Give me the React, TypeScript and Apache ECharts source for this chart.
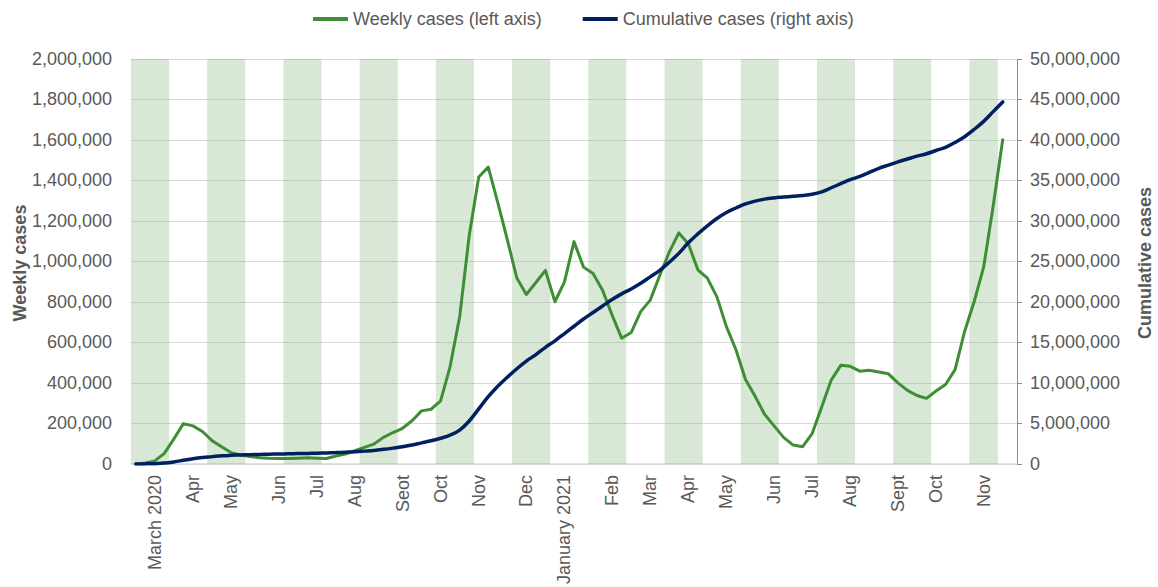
import React, { useEffect, useRef } from "react";
import * as echarts from "echarts";

// Weekly cases, one value per week (March 2020 – Nov 2021)
const weeklyCases = [
  0, 5000, 15000, 52000, 124000, 199000, 188000, 160000, 115000, 85000,
  56000, 44000, 36000, 31000, 28000, 27000, 27000, 28000, 30000, 28000,
  27000, 39000, 49000, 65000, 82000, 98000, 131000, 155000, 176000, 213000,
  262000, 270000, 311000, 482000, 727000, 1128000, 1417000, 1466000, 1291000, 1108000,
  918000, 837000, 896000, 956000, 801000, 899000, 1098000, 972000, 940000, 858000,
  735000, 621000, 649000, 752000, 809000, 931000, 1046000, 1141000, 1087000, 959000,
  918000, 825000, 678000, 564000, 417000, 335000, 245000, 188000, 131000, 93000,
  85000, 150000, 281000, 414000, 487000, 482000, 458000, 463000, 454000, 445000,
  400000, 363000, 338000, 324000, 360000, 392000, 466000, 654000, 801000, 972000,
  1274000, 1601000,
];

// Cumulative cases, one value per week
const cumulativeCases = [
  0, 5000, 30000, 100000, 250000, 450000, 650000, 800000, 900000, 1000000,
  1060000, 1100000, 1140000, 1170000, 1200000, 1220000, 1250000, 1280000, 1300000, 1330000,
  1360000, 1400000, 1450000, 1500000, 1580000, 1670000, 1800000, 1950000, 2120000, 2330000,
  2600000, 2860000, 3170000, 3550000, 4170000, 5300000, 6800000, 8300000, 9600000, 10700000,
  11750000, 12700000, 13500000, 14400000, 15200000, 16100000, 17000000, 17900000, 18700000, 19500000,
  20300000, 21000000, 21600000, 22300000, 23100000, 23900000, 24900000, 26000000, 27300000, 28400000,
  29400000, 30300000, 31050000, 31600000, 32100000, 32450000, 32700000, 32850000, 32950000, 33050000,
  33150000, 33300000, 33600000, 34100000, 34600000, 35100000, 35500000, 36000000, 36500000, 36900000,
  37300000, 37650000, 38000000, 38300000, 38700000, 39100000, 39700000, 40400000, 41300000, 42300000,
  43500000, 44700000,
];

// Month tick labels and the week index where each appears
const monthLabels = [
  "March 2020", "Apr", "May", "Jun", "Jul", "Aug", "Seot", "Oct", "Nov", "Dec",
  "January 2021", "Feb", "Mar", "Apr", "May", "Jun", "Jul", "Aug", "Sept", "Oct", "Nov",
];
const monthLabelWeeks = [2, 6, 10, 15, 19, 23, 28, 32, 36, 41, 45, 50, 54, 58, 62, 67, 71, 75, 80, 84, 89];

// Alternating background shading per week (1 = shaded)
const shadeBands = [
  1, 1, 1, 1, 0, 0, 0, 0, 1, 1, 1, 1, 0, 0, 0, 0, 1, 1, 1, 1,
  0, 0, 0, 0, 1, 1, 1, 1, 0, 0, 0, 0, 1, 1, 1, 1, 0, 0, 0, 0,
  1, 1, 1, 1, 0, 0, 0, 0, 1, 1, 1, 1, 0, 0, 0, 0, 1, 1, 1, 1,
  0, 0, 0, 0, 1, 1, 1, 1, 0, 0, 0, 0, 1, 1, 1, 1, 0, 0, 0, 0,
  1, 1, 1, 1, 0, 0, 0, 0, 1, 1, 1, 0, 0,
];

const FONT = '"Liberation Sans", Arial, Helvetica, sans-serif';
const GREY = "#595959";

export default function App() {
  const ref = useRef<HTMLDivElement>(null);

  useEffect(() => {
    if (!ref.current) return;
    const chart = echarts.init(ref.current, null, { renderer: "svg" });

    const categories: string[] = shadeBands.map(() => "");
    monthLabelWeeks.forEach((w, k) => {
      categories[w] = monthLabels[k];
    });

    const fmt = (v: number) => v.toLocaleString("en-US");

    chart.setOption({
      animation: false,
      textStyle: { fontFamily: FONT },
      legend: {
        data: ["Weekly cases (left axis)", "Cumulative cases (right axis)"],
        left: 308,
        top: 5,
        icon: "rect",
        itemWidth: 35,
        itemHeight: 4,
        itemGap: 41,
        textStyle: { fontSize: 18, color: GREY, fontFamily: FONT },
      },
      grid: { left: 131, top: 59, width: 886, height: 408 },
      xAxis: {
        type: "category",
        data: categories,
        boundaryGap: true,
        axisLine: { lineStyle: { color: "#D9D9D9", width: 1.5 } },
        axisTick: { show: false },
        axisLabel: {
          interval: 0,
          rotate: 90,
          margin: 11,
          fontSize: 18,
          color: GREY,
          fontFamily: FONT,
        },
        splitLine: { show: false },
      },
      yAxis: [
        {
          type: "value",
          min: 0,
          max: 2000000,
          interval: 200000,
          axisLine: { show: false },
          axisTick: { show: false },
          axisLabel: { margin: 19, fontSize: 18, color: GREY, fontFamily: FONT, formatter: fmt },
          splitLine: { lineStyle: { color: "#D9D9D9", width: 1 } },
        },
        {
          type: "value",
          position: "right",
          min: 0,
          max: 50000000,
          interval: 5000000,
          axisLine: { show: true, lineStyle: { color: "#8C8C8C", width: 1 } },
          axisTick: { show: true, length: 5, lineStyle: { color: "#8C8C8C" } },
          axisLabel: { margin: 13, fontSize: 18, color: GREY, fontFamily: FONT, formatter: fmt },
          splitLine: { show: false },
        },
        { type: "value", min: 0, max: 1, show: false },
      ],
      graphic: [
        {
          type: "text",
          x: 20,
          y: 263,
          rotation: Math.PI / 2,
          style: {
            text: "Weekly cases",
            fontSize: 18,
            fontWeight: "bold",
            fill: GREY,
            fontFamily: FONT,
            align: "center",
            verticalAlign: "middle",
          },
        },
        {
          type: "text",
          x: 1145,
          y: 263,
          rotation: Math.PI / 2,
          style: {
            text: "Cumulative cases",
            fontSize: 18,
            fontWeight: "bold",
            fill: GREY,
            fontFamily: FONT,
            align: "center",
            verticalAlign: "middle",
          },
        },
      ],
      series: [
        {
          name: "bands",
          type: "bar",
          yAxisIndex: 2,
          data: shadeBands,
          barCategoryGap: "0%",
          barGap: "0%",
          silent: true,
          z: 1,
          itemStyle: { color: "rgba(128,178,118,0.3)" },
        },
        {
          name: "Weekly cases (left axis)",
          type: "line",
          yAxisIndex: 0,
          data: weeklyCases,
          symbol: "none",
          z: 3,
          itemStyle: { color: "#3E8E35" },
          lineStyle: { color: "#3E8E35", width: 3, join: "round", cap: "round" },
        },
        {
          name: "Cumulative cases (right axis)",
          type: "line",
          yAxisIndex: 1,
          data: cumulativeCases,
          symbol: "none",
          smooth: 0.4,
          z: 4,
          itemStyle: { color: "#002060" },
          lineStyle: { color: "#002060", width: 3.5, cap: "round" },
        },
      ],
    });

    return () => chart.dispose();
  }, []);

  return (
    <div
      ref={ref}
      style={{ position: "fixed", left: 0, top: 0, width: 1158, height: 587, background: "#fff" }}
    />
  );
}
